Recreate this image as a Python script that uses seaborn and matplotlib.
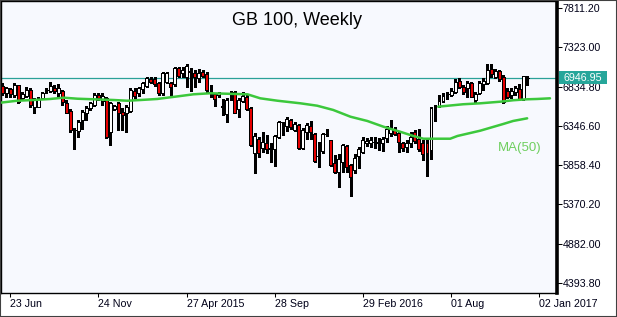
import matplotlib
matplotlib.use("Agg")
import matplotlib.pyplot as plt
import matplotlib.transforms as mtransforms
from matplotlib.patches import Rectangle
import seaborn as sns
import numpy as np
import pandas as pd

# ---- data (weekly OHLC) ----
opens = [6844, 6760, 6806, 6732, 6860, 6690, 6723, 6794, 6586, 6586,
         6698, 6790, 6785, 6822, 6753, 6781, 6636, 6532, 6290, 6287,
         6420, 6511, 6566, 6607, 6732, 6657, 6698, 6274, 6561, 6636,
         6523, 6503, 6536, 6785, 6753, 6803, 6847, 6935, 6927, 6877,
         6753, 6897, 6885, 6865, 7064, 7002, 6959, 7025, 7009, 6940,
         7014, 6993, 6765, 6740, 6732, 6586, 6491, 6738, 6765, 6553,
         6661, 6710, 6566, 6005, 6180, 6075, 6130, 6065, 6055, 6212,
         6390, 6349, 6420, 6296, 6358, 6068, 6267, 6345, 6246, 5970,
         6034, 6244, 6171, 5881, 5776, 5901, 6096, 5860, 5797, 5976,
         6025, 6130, 6130, 6142, 6138, 6130, 6192, 6254, 6296, 6254,
         6130, 6080, 6130, 6267, 6184, 6138, 6138, 6046, 6566, 6598,
         6661, 6738, 6732, 6773, 6910, 6835, 6815, 6885, 6669, 6753,
         6869, 6877, 7052, 6959, 7030, 6959, 6781, 6732, 6773, 6806,
         6678, 6945]
highs = [6877, 6835, 6815, 6877, 6860, 6773, 6827, 6815, 6690, 6710,
         6773, 6822, 6890, 6856, 6865, 6794, 6669, 6553, 6317, 6420,
         6545, 6595, 6648, 6760, 6760, 6753, 6710, 6648, 6607, 6648,
         6566, 6607, 6815, 6815, 6835, 6897, 6959, 6959, 6959, 6897,
         7022, 7022, 6897, 7084, 7084, 7084, 7114, 7064, 7043, 7052,
         7043, 7022, 6856, 6753, 6773, 6678, 6690, 6785, 6785, 6690,
         6765, 6732, 6578, 6255, 6212, 6274, 6233, 6130, 6233, 6411,
         6399, 6461, 6429, 6399, 6370, 6317, 6379, 6411, 6254, 6150,
         6254, 6308, 6171, 5984, 5993, 6118, 6109, 5872, 5997, 6088,
         6205, 6192, 6205, 6205, 6192, 6205, 6349, 6420, 6329, 6274,
         6150, 6171, 6274, 6296, 6308, 6171, 6192, 6586, 6607, 6732,
         6753, 6773, 6815, 6931, 6939, 6856, 6910, 6897, 6765, 6910,
         6939, 7118, 7118, 7052, 7043, 6980, 6815, 6815, 6844, 6868,
         6968, 6968]
lows = [6732, 6710, 6710, 6710, 6628, 6669, 6710, 6586, 6511, 6578,
        6690, 6760, 6773, 6753, 6710, 6607, 6504, 6274, 6055, 6205,
        6308, 6420, 6545, 6595, 6669, 6607, 6200, 6109, 6545, 6296,
        6296, 6274, 6523, 6698, 6719, 6753, 6835, 6877, 6844, 6732,
        6732, 6877, 6732, 6844, 6959, 6959, 6835, 6785, 6835, 6897,
        6959, 6773, 6703, 6598, 6710, 6482, 6399, 6669, 6511, 6461,
        6648, 6545, 6096, 5756, 5963, 6025, 6013, 5901, 5847, 6192,
        6233, 6287, 6304, 6287, 6055, 6059, 6184, 6184, 5901, 5839,
        6013, 6221, 5847, 5756, 5582, 5769, 5769, 5477, 5764, 5826,
        6005, 6096, 6080, 6068, 6046, 6038, 6150, 6221, 6233, 6025,
        6038, 6025, 6080, 6130, 6038, 5922, 5727, 5934, 6411, 6586,
        6648, 6678, 6719, 6753, 6815, 6740, 6703, 6703, 6628, 6744,
        6794, 6868, 6952, 6939, 6910, 6636, 6698, 6690, 6732, 6669,
        6669, 6856]
closes = [6760, 6815, 6744, 6860, 6648, 6740, 6794, 6607, 6669, 6682,
          6760, 6798, 6844, 6785, 6815, 6648, 6511, 6296, 6296, 6399,
          6524, 6566, 6636, 6732, 6698, 6723, 6205, 6628, 6595, 6504,
          6482, 6578, 6794, 6719, 6815, 6877, 6943, 6897, 6865, 6753,
          7009, 7002, 6835, 7064, 6972, 7043, 7093, 7018, 6959, 7009,
          6972, 6794, 6770, 6678, 6760, 6590, 6669, 6742, 6511, 6669,
          6723, 6561, 6109, 6221, 6013, 6146, 6055, 6068, 6221, 6399,
          6392, 6429, 6329, 6367, 6075, 6296, 6358, 6267, 5910, 5975,
          6246, 6247, 5860, 5769, 5931, 6109, 5831, 5714, 5943, 6055,
          6171, 6162, 6171, 6144, 6140, 6184, 6308, 6317, 6246, 6150,
          6068, 6138, 6205, 6159, 6055, 5997, 6005, 6566, 6586, 6661,
          6723, 6741, 6785, 6897, 6835, 6765, 6885, 6710, 6744, 6885,
          6906, 7043, 6993, 7034, 6931, 6648, 6710, 6781, 6815, 6678,
          6968, 6946.95]

ma_week = [-0.4, 3.7, 7.8, 12.0, 15.3, 18.8, 22.8, 27.8, 31.2, 34.5,
           38.7, 41.2, 44.5, 47.7, 51.9, 61.2, 64.4, 68.7, 74.4, 78.6,
           82.6, 86.9, 91.1, 95.1, 99.3, 102.6, 105.1, 111.8, 113.6,
           119.3, 125.0, 127.5, 131.0]
ma_value = [6636, 6660, 6669, 6682, 6698, 6685, 6678, 6669, 6660, 6669,
            6682, 6698, 6719, 6740, 6753, 6740, 6690, 6660, 6628, 6598,
            6545, 6461, 6408, 6337, 6274, 6221, 6187, 6187, 6221,
            6287, 6370, 6408, 6441]
ma2_week = [108.8, 115.0, 119.3, 124.3, 127.5, 131.0, 133.5, 136.7]
ma2_value = [6586, 6616, 6628, 6648, 6666, 6678, 6682, 6690]

last_price = 6946.95
x_tick_weeks = [2, 24, 46, 68, 90, 112, 134]
x_tick_labels = ["23 Jun", "24 Nov", "27 Apr 2015", "28 Sep",
                 "29 Feb 2016", "01 Aug", "02 Jan 2017"]
y_ticks = [4393.80, 4882.00, 5370.20, 5858.40, 6346.60, 6834.80,
           7323.00, 7811.20]

# ---- style ----
sns.set_style("white")
plt.rcParams['font.family'] = ['Liberation Sans', 'DejaVu Sans']

W, H = 617, 317
fig = plt.figure(figsize=(W / 100, H / 100), dpi=100)
fig.patch.set_facecolor('white')
ax = fig.add_axes([0.6 / W, 24 / H, 556 / W, (H - 24 - 0.6) / H])
ax.set_facecolor('#f7f9fe')

df = pd.DataFrame(dict(week=np.arange(len(opens)), open=opens, high=highs,
                       low=lows, close=closes))
up = df["close"] >= df["open"]

# wicks
ax.vlines(df["week"], df["low"], df["high"], color='black', lw=0.8,
          zorder=2, antialiased=False)
# bodies
body_bottom = np.minimum(df["open"], df["close"])
body_height = np.abs(df["close"] - df["open"])
ax.bar(df["week"], body_height, bottom=body_bottom, width=0.74,
       color=np.where(up, 'white', '#e60000'), edgecolor='black',
       linewidth=0.6, zorder=3, antialiased=False)

# moving averages
ma_df = pd.DataFrame(dict(week=ma_week, value=ma_value))
ma2_df = pd.DataFrame(dict(week=ma2_week, value=ma2_value))
sns.lineplot(data=ma_df, x="week", y="value", ax=ax, color='#3cc83c',
             lw=1.8, zorder=4, sort=False)
sns.lineplot(data=ma2_df, x="week", y="value", ax=ax, color='#3cc83c',
             lw=1.8, zorder=4, sort=False)

# last price line
ax.axhline(last_price, color='#2aa198', lw=0.9, zorder=1)

# y axis on the right
ax.yaxis.tick_right()
ax.set_yticks(y_ticks)
ax.set_yticklabels([f"{v:.2f}" for v in y_ticks])
ax.tick_params(axis='y', direction='out', length=3.5, width=0.75,
               pad=0.8, labelsize=7.7, colors='black', labelcolor='#000018',
               left=False, right=True)
ax.set_xticks(x_tick_weeks)
ax.set_xticklabels(x_tick_labels)
for lbl in ax.get_xticklabels():
    lbl.set_horizontalalignment('left')
ax.tick_params(axis='x', direction='out', length=3, width=0.75, pad=1.5,
               labelsize=7.7, colors='black', labelcolor='#000018',
               bottom=True)
ax.set_xlabel("")
ax.set_ylabel("")

for side in ['left', 'top', 'bottom']:
    ax.spines[side].set_color('black')
    ax.spines[side].set_linewidth(1.0)
ax.spines['right'].set_color('black')
ax.spines['right'].set_linewidth(2.6)

# last price label box on the right axis
blend = mtransforms.blended_transform_factory(fig.transFigure, ax.transData)
box_h = 160
ax.add_patch(Rectangle((559 / W, last_price - box_h / 2), 48 / W, box_h,
                       transform=blend, facecolor='#26a69a', edgecolor='none',
                       clip_on=False, zorder=10))
ax.text(583 / W, last_price, f"{last_price:.2f}", transform=blend,
        ha='center', va='center', color='white', fontsize=7.7, zorder=11,
        clip_on=False)
ax.set_xlim(-0.42, 138.35)
ax.set_ylim(4265.6, 7907.0)

# title and MA label
fig.text(296.7 / W, 1 - 25 / H, "GB 100, Weekly", ha='center',
         va='baseline', fontsize=13, color='black')
fig.text(498.3 / W, 1 - 150.7 / H, "MA(50)", ha='left', va='baseline',
         fontsize=9.5, color='#6fcf5f')

# outer frame
fig.add_artist(Rectangle((0, 0), 1, 1, transform=fig.transFigure,
                         fill=False, edgecolor='#404040', lw=1.5))

fig.savefig("out.png", dpi=100)
